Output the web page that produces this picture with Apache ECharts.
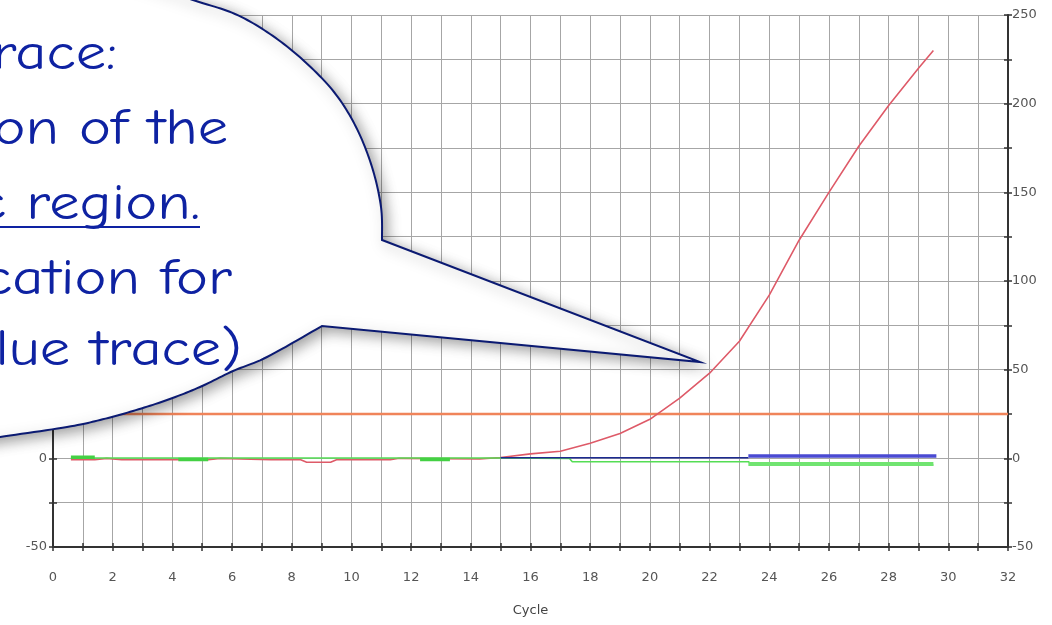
<!DOCTYPE html>
<html>
<head>
<meta charset="utf-8">
<script src="https://cdn.jsdelivr.net/npm/echarts@6/dist/echarts.min.js"></script>
<style>
  html, body { margin: 0; padding: 0; background: #ffffff; }
  #chart { width: 1052px; height: 625px; }
</style>
</head>
<body>
<div id="chart"></div>
<script>
// ---- axis ranges and ticks ----
const xRange = [0, 32];
const yRange = [-50, 250];
const xStep = 1;          // one grid column per cycle
const yStep = 25;         // minor rows, labelled every 50
const yLabelEvery = 50;
const xLabelEvery = 2;

// ---- threshold ----
const thresholdValue = 25;

// ---- red trace (amplified sample) ----
const redCycles = [0.6, 1.4, 1.8, 2.3, 5.2, 5.6, 7.3, 8.3, 8.5, 9.3, 9.5, 11.3, 11.6, 14.3,
                   15, 16, 17, 18, 19, 20, 21, 22, 23, 24, 25, 26, 27, 28, 29, 29.5];
const redValues = [-0.8, -0.8, 0, -0.8, -0.8, 0, -0.8, -0.8, -2.2, -2.2, -0.8, -0.8, 0, -0.3,
                   0.5, 2.5, 4, 8.5, 14, 22, 34, 48, 66, 92, 123, 150, 176, 199, 220, 230];

// ---- green traces (no amplification) ----
const greenCycles = [0.6, 15, 17.3, 17.4, 23.3, 23.4, 28, 28.1, 29.5];
const greenValues = [0.2, 0.2, 0, -1.9, -1.9, -3.4, -3.4, -3.8, -3.8];
const greenLateCycles = [23.3, 29.5];
const greenLateValues = [-3.2, -3.2];
const greenBlobStart = [0.6, 4.2, 12.3];
const greenBlobEnd = [1.4, 5.2, 13.3];
const greenBlobValue = [0.6, -0.6, -0.6];

// ---- blue traces (no amplification) ----
const blueCycles = [15, 23.3];
const blueValues = [0.3, 0.3];
const blueLateCycles = [23.3, 29.6];
const blueLateValues = [1.3, 1.3];

// ---- callout text ----
const calloutLines = ['Red trace:', 'Amplification of the', 'specific region.',
                      '(No amplification for', 'the blue trace)'];

const zip = (xs, ys) => xs.map((x, i) => [x, ys[i]]);

function lineSeries(name, data, color, width, z) {
  return {
    name, type: 'line', data, showSymbol: false, symbol: 'none',
    lineStyle: { color, width }, itemStyle: { color }, z: z || 2,
    xAxisIndex: 0, yAxisIndex: 0, silent: true
  };
}

const series = [
  lineSeries('Threshold', [[xRange[0], thresholdValue], [xRange[1], thresholdValue]], '#f0845a', 2.5, 2),
  lineSeries('Red', zip(redCycles, redValues), '#de5a68', 1.6, 3),
  lineSeries('Green', zip(greenCycles, greenValues), '#55dd55', 1.6, 4),
  lineSeries('Green late', zip(greenLateCycles, greenLateValues), '#70e470', 4, 4),
  lineSeries('Blue', zip(blueCycles, blueValues), '#1c2a90', 1.6, 5),
  lineSeries('Blue late', zip(blueLateCycles, blueLateValues), '#4a4ad2', 3.5, 5)
];
greenBlobStart.forEach((s, i) => {
  series.push(lineSeries('Green ' + i, [[s, greenBlobValue[i]], [greenBlobEnd[i], greenBlobValue[i]]], '#44d044', 3.5, 4));
});

// ---- callout outline: Catmull-Rom curve sampled into a polygon ----
function sampleCurve(pts, steps) {
  const out = [];
  for (let i = 0; i < pts.length - 1; i++) {
    const p0 = pts[i - 1] || pts[i], p1 = pts[i], p2 = pts[i + 1], p3 = pts[i + 2] || p2;
    const c1 = [p1[0] + (p2[0] - p0[0]) / 6, p1[1] + (p2[1] - p0[1]) / 6];
    const c2 = [p2[0] - (p3[0] - p1[0]) / 6, p2[1] - (p3[1] - p1[1]) / 6];
    for (let s = 0; s < steps; s++) {
      const t = s / steps, u = 1 - t;
      out.push([
        u * u * u * p1[0] + 3 * u * u * t * c1[0] + 3 * u * t * t * c2[0] + t * t * t * p2[0],
        u * u * u * p1[1] + 3 * u * u * t * c1[1] + 3 * u * t * t * c2[1] + t * t * t * p2[1]
      ]);
    }
  }
  out.push(pts[pts.length - 1]);
  return out;
}
const topEdge = [[100, -30], [193, 0], [235, 14], [270, 34], [303, 60], [334, 92],
                 [356, 127], [372, 167], [381, 207], [382, 240]];
const tailTip = [700, 362];
const bottomEdge = [[322, 326], [267, 357], [233, 371], [200, 387], [167, 400], [133, 411],
                    [100, 420], [67, 427], [0, 437], [-40, 443]];
const bubblePoints = [
  ...sampleCurve(topEdge, 12),
  tailTip,
  ...sampleCurve(bottomEdge, 12),
  [-60, 460], [-60, -60], [100, -60]
];

const textFont = '50px "Comic Sans MS", "Comic Neue", "DejaVu Sans", sans-serif';
const textRight = [117, 228, 200, 232, 242];
const textMid = [55, 130, 205, 280, 351];
const textStretch = 1.21;

const graphics = [
  {
    type: 'polygon', z: 100, silent: true,
    shape: { points: bubblePoints },
    style: {
      fill: '#ffffff', stroke: '#0b1a72', lineWidth: 2, lineJoin: 'miter',
      shadowBlur: 14, shadowOffsetX: 4, shadowOffsetY: 4, shadowColor: 'rgba(0,0,0,0.38)'
    }
  }
];
calloutLines.forEach((t, i) => {
  graphics.push({
    type: 'text', z: 101, silent: true,
    x: textRight[i], y: textMid[i], scaleX: textStretch, scaleY: 1,
    style: {
      text: t, x: 0, y: 0, font: textFont, fill: '#0e22a2',
      textAlign: 'right', align: 'right', textVerticalAlign: 'middle', verticalAlign: 'middle'
    }
  });
});
// underline of the third line
graphics.push({
  type: 'line', z: 101, silent: true,
  shape: { x1: -20, y1: 227, x2: 200, y2: 227 },
  style: { stroke: '#0e22a2', lineWidth: 2 }
});

const labelStyle = { color: '#555', fontSize: 13, fontFamily: '"DejaVu Sans", sans-serif' };
const axisLineStyle = { color: '#333', width: 2 };
const gridLineStyle = { color: '#a6a6a6', width: 1 };

function yAxisDef(position, showLabels, inside) {
  return {
    type: 'value', min: yRange[0], max: yRange[1], interval: yStep, position,
    axisLine: { show: !inside, onZero: false, lineStyle: axisLineStyle },
    axisTick: { show: true, inside, length: 4, lineStyle: { color: '#333', width: 1.5 } },
    axisLabel: {
      show: showLabels, margin: position === 'left' ? 6 : 4, ...labelStyle,
      formatter: v => (v % yLabelEvery === 0 ? String(v) : '')
    },
    splitLine: { show: !inside && position === 'left', lineStyle: gridLineStyle }
  };
}
function xAxisDef(inside) {
  return {
    type: 'value', min: xRange[0], max: xRange[1], interval: xStep, position: 'bottom',
    name: inside ? '' : 'Cycle', nameLocation: 'middle', nameGap: 57,
    nameTextStyle: { color: '#444', fontSize: 13, fontFamily: '"DejaVu Sans", sans-serif' },
    axisLine: { show: !inside, onZero: false, lineStyle: axisLineStyle },
    axisTick: { show: true, inside, length: 4, lineStyle: { color: '#333', width: 1.5 } },
    axisLabel: {
      show: !inside, margin: 24, ...labelStyle,
      formatter: v => (v % xLabelEvery === 0 ? String(v) : '')
    },
    splitLine: { show: !inside, lineStyle: gridLineStyle }
  };
}

const chart = echarts.init(document.getElementById('chart'), null, { renderer: 'canvas' });
chart.setOption({
  animation: false,
  backgroundColor: '#ffffff',
  grid: { left: 53, right: 44, top: 15, bottom: 78, containLabel: false },
  xAxis: [xAxisDef(false), xAxisDef(true)],
  yAxis: [yAxisDef('left', true, false), yAxisDef('right', true, false),
          yAxisDef('left', false, true), yAxisDef('right', false, true)],
  series,
  graphic: graphics
});
</script>
</body>
</html>
